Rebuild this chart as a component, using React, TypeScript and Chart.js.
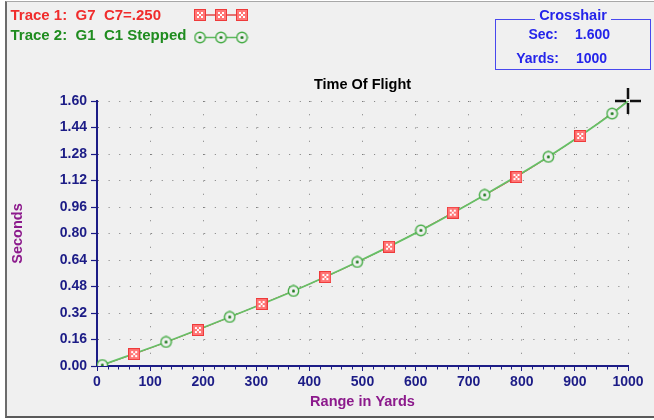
import React, { useEffect, useRef } from "react";
import { Chart, registerables } from "chart.js";

Chart.register(...registerables);

// ---- data ----
const trace1Range = [70, 190, 310, 430, 550, 670, 790, 910];
const trace1Sec = [0.072, 0.217, 0.374, 0.537, 0.72, 0.926, 1.141, 1.389];
const trace2Range = [10, 130, 250, 370, 490, 610, 730, 850, 970];
const trace2Sec = [0.006, 0.145, 0.296, 0.453, 0.628, 0.819, 1.033, 1.263, 1.524];
const crossYards = 1000;
const crossSec = 1.6;
const xTickStep = 100;
const xMinorStep = 20;
const yTickStep = 0.16;
const xMax = 1000;
const yMax = 1.6;

const FONT = 'Arial, "Liberation Sans", sans-serif';
const NAVY = "#1c1c86";
const PURPLE = "#8c1a8c";
const DOT = "#7c7c7c";
const RED_TEXT = "#f02c2c";
const GREEN_TEXT = "#1f8c1f";
const BLUE = "#2424ea";

function makeSquare(): HTMLCanvasElement {
  const c = document.createElement("canvas");
  c.width = 12;
  c.height = 12;
  const g = c.getContext("2d")!;
  g.fillStyle = "#ff7676";
  g.fillRect(0, 0, 12, 12);
  g.strokeStyle = "#ee3a3a";
  g.lineWidth = 1;
  g.strokeRect(0.5, 0.5, 11, 11);
  g.fillStyle = "#ffffff";
  [[3, 3], [7, 3], [3, 7], [7, 7], [5, 5]].forEach(([a, b]) => g.fillRect(a, b, 2, 2));
  return c;
}

function makeCircle(): HTMLCanvasElement {
  const c = document.createElement("canvas");
  c.width = 13;
  c.height = 13;
  const g = c.getContext("2d")!;
  g.beginPath();
  g.arc(6.5, 6.5, 5.2, 0, Math.PI * 2);
  g.fillStyle = "#f0f0f0";
  g.fill();
  g.strokeStyle = "#46ac46";
  g.lineWidth = 1.4;
  g.stroke();
  g.beginPath();
  g.arc(6.5, 6.5, 1.5, 0, Math.PI * 2);
  g.fillStyle = "#1d7a1d";
  g.fill();
  return c;
}

export default function App() {
  const ref = useRef<HTMLCanvasElement | null>(null);

  useEffect(() => {
    const canvas = ref.current;
    if (!canvas) return;
    const sq = makeSquare();
    const ci = makeCircle();

    const line1 = trace1Range.map((x, i) => ({ x, y: trace1Sec[i] }));
    line1.unshift({ x: trace2Range[0], y: trace2Sec[0] });
    line1.push({ x: crossYards, y: crossSec });
    const line2 = trace2Range.map((x, i) => ({ x, y: trace2Sec[i] }));
    line2.push({ x: crossYards, y: crossSec });

    const decor = {
      id: "decor",
      afterDraw(chart: any) {
        const { ctx, scales } = chart;
        const x = scales.x;
        const y = scales.y;
        ctx.save();
        // minor ticks on the x axis
        ctx.strokeStyle = NAVY;
        ctx.lineWidth = 1;
        for (let v = 0; v <= xMax; v += xMinorStep) {
          if (v % xTickStep === 0) continue;
          const px = Math.round(x.getPixelForValue(v)) + 0.5;
          ctx.beginPath();
          ctx.moveTo(px, y.bottom);
          ctx.lineTo(px, y.bottom + 3.5);
          ctx.stroke();
        }
        // crosshair
        const cx = x.getPixelForValue(crossYards);
        const cy = y.getPixelForValue(crossSec);
        ctx.strokeStyle = "#111";
        ctx.lineWidth = 2.5;
        ctx.beginPath();
        ctx.moveTo(cx - 13, cy);
        ctx.lineTo(cx - 2, cy);
        ctx.moveTo(cx + 2, cy);
        ctx.lineTo(cx + 13, cy);
        ctx.moveTo(cx, cy - 13);
        ctx.lineTo(cx, cy - 2);
        ctx.moveTo(cx, cy + 2);
        ctx.lineTo(cx, cy + 13);
        ctx.stroke();
        // legend samples
        ctx.lineWidth = 1.4;
        ctx.strokeStyle = "#e04848";
        ctx.beginPath();
        ctx.moveTo(200, 15);
        ctx.lineTo(242, 15);
        ctx.stroke();
        ctx.strokeStyle = "#5cb85c";
        ctx.beginPath();
        ctx.moveTo(200, 37.5);
        ctx.lineTo(242, 37.5);
        ctx.stroke();
        [200, 221, 242].forEach((px) => {
          ctx.drawImage(sq, px - 6, 9);
          ctx.drawImage(ci, px - 6.5, 31);
        });
        ctx.restore();
      },
    };

    const chart = new Chart(canvas, {
      type: "line",
      data: {
        datasets: [
          {
            label: "Trace 1 markers",
            data: trace1Range.map((x, i) => ({ x, y: trace1Sec[i] })),
            showLine: false,
            pointStyle: sq as any,
            pointRadius: 6,
            order: 0,
          },
          {
            label: "Trace 2 markers",
            data: trace2Range.map((x, i) => ({ x, y: trace2Sec[i] })),
            showLine: false,
            pointStyle: ci as any,
            pointRadius: 6,
            order: 1,
          },
          {
            label: "Trace 2",
            data: line2,
            borderColor: "#66c066",
            borderWidth: 1.8,
            pointRadius: 0,
            cubicInterpolationMode: "monotone",
            order: 2,
          },
          {
            label: "Trace 1",
            data: line1,
            borderColor: "#d84040",
            borderWidth: 1,
            pointRadius: 0,
            cubicInterpolationMode: "monotone",
            order: 3,
          },
        ],
      },
      options: {
        animation: false,
        responsive: false,
        devicePixelRatio: 1,
        layout: { padding: { left: 6, right: 26, top: 70, bottom: 8 } },
        plugins: {
          legend: { display: false },
          tooltip: { enabled: false },
          title: {
            display: true,
            fullSize: false,
            text: "Time Of Flight",
            color: "#000",
            font: { family: FONT, size: 14.5, weight: "bold" },
            padding: { top: 6.3, bottom: 7.3 },
          },
        },
        scales: {
          x: {
            type: "linear",
            min: 0,
            max: xMax,
            afterFit: (s: any) => {
              s.height = 46;
            },
            ticks: {
              stepSize: xTickStep,
              color: NAVY,
              font: { family: FONT, size: 14, weight: "bold" },
              padding: 3,
              maxRotation: 0,
              autoSkip: false,
              callback: (v: any) => String(v),
            },
            grid: {
              color: DOT,
              lineWidth: 1,
              tickLength: 5,
              tickColor: NAVY,
              tickWidth: 1,
            },
            border: { color: NAVY, width: 2, dash: [1, 12.25] },
            title: {
              display: true,
              text: "Range in Yards",
              color: PURPLE,
              font: { family: FONT, size: 14.5, weight: "bold" },
              padding: { top: 0, bottom: 1 },
            },
          },
          y: {
            type: "linear",
            min: 0,
            max: yMax,
            afterFit: (s: any) => {
              s.width = 91;
            },
            ticks: {
              stepSize: yTickStep,
              color: NAVY,
              font: { family: FONT, size: 14, weight: "bold" },
              padding: 4,
              autoSkip: false,
              callback: (v: any) => Number(v).toFixed(2),
            },
            grid: {
              color: DOT,
              lineWidth: 1,
              tickLength: 6,
              tickColor: NAVY,
              tickWidth: 1.2,
            },
            border: { color: NAVY, width: 2, dash: [1, 9.62] },
            title: {
              display: true,
              text: "Seconds",
              color: PURPLE,
              font: { family: FONT, size: 14.5, weight: "bold" },
              padding: { top: 3, bottom: 0 },
            },
          },
        },
      },
      plugins: [decor],
    } as any);

    return () => chart.destroy();
  }, []);

  const txt = (extra: React.CSSProperties): React.CSSProperties => ({
    position: "absolute",
    whiteSpace: "pre",
    fontFamily: FONT,
    fontWeight: "bold",
    ...extra,
  });

  return (
    <div
      style={{
        position: "fixed",
        left: 0,
        top: 0,
        width: 654,
        height: 420,
        background: "#fff",
        overflow: "hidden",
      }}
    >
      <div
        style={{
          position: "absolute",
          left: 5,
          top: 1,
          width: 649,
          height: 417,
          boxSizing: "border-box",
          background: "#f0f0f0",
          borderLeft: "2px solid #6c6c6c",
          borderTop: "1px solid #a8a8a8",
          borderBottom: "2px solid #5a5a5a",
        }}
      />
      <canvas
        ref={ref}
        width={654}
        height={420}
        style={{ position: "absolute", left: 0, top: 0, width: 654, height: 420 }}
      />
      <div style={txt({ left: 10.5, top: 7.3, fontSize: 15, lineHeight: "15px", color: RED_TEXT })}>
        {"Trace 1:  G7  C7=.250"}
      </div>
      <div style={txt({ left: 10.5, top: 26.6, fontSize: 15, lineHeight: "15px", color: GREEN_TEXT })}>
        {"Trace 2:  G1  C1 Stepped"}
      </div>
      <div
        style={{
          position: "absolute",
          left: 495,
          top: 19,
          width: 156,
          height: 51,
          boxSizing: "border-box",
          border: "1px solid #4848ee",
        }}
      />
      <div style={txt({ left: 495, width: 156, top: 8.2, fontSize: 14.5, lineHeight: "15px", color: BLUE, textAlign: "center" })}>
        <span style={{ background: "#f0f0f0", padding: "0 4px" }}>Crosshair</span>
      </div>
      <div style={txt({ left: 480, width: 78, top: 27, fontSize: 14, lineHeight: "14px", color: BLUE, textAlign: "right" })}>
        Sec:
      </div>
      <div style={txt({ left: 575, top: 27, fontSize: 14, lineHeight: "14px", color: BLUE })}>1.600</div>
      <div style={txt({ left: 480, width: 79, top: 51, fontSize: 14, lineHeight: "14px", color: BLUE, textAlign: "right" })}>
        Yards:
      </div>
      <div style={txt({ left: 576, top: 51, fontSize: 14, lineHeight: "14px", color: BLUE })}>1000</div>
    </div>
  );
}
